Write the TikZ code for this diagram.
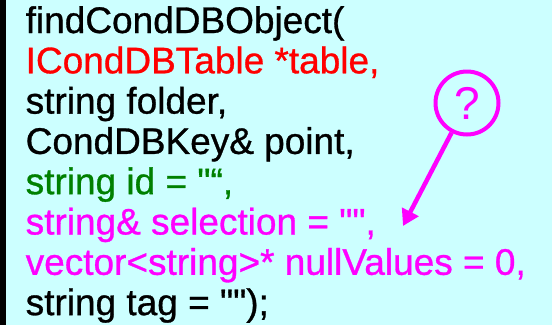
\documentclass[tikz,border=0pt]{standalone}
\usepackage{fontspec}
\setmainfont{Liberation Sans}[Ligatures=TeXOff]
\newfontfamily\codefont{Liberation Sans}[Ligatures=TeXOff, FakeBold=0.8]
\usetikzlibrary{positioning,arrows.meta}
\definecolor{bgcyan}{HTML}{CCFFFF}
\definecolor{codered}{HTML}{FF0000}
\definecolor{codegreen}{HTML}{008000}
\definecolor{codemagenta}{HTML}{FF00FF}
\tikzset{
  codeline/.style={inner sep=0pt, text height=29.9pt, text depth=10pt,
                   font=\codefont\fontsize{37}{40}\selectfont},
  qmark/.style={circle, draw=codemagenta, line width=4pt, minimum size=63pt,
                inner sep=0pt, text=codemagenta, font=\fontsize{46}{46}\selectfont},
  pointer/.style={-{Triangle[length=16pt, width=18pt]}, line width=4.5pt, draw=codemagenta},
}

\begin{document}
\begin{tikzpicture}[x=1pt, y=-1pt]
  \useasboundingbox (0,0) rectangle (552,325);
  \fill[bgcyan] (0,0) rectangle (552,325);
  \fill[black] (0,0) rectangle (6,325);

  \node[codeline, anchor=base west] (line1) at (25.5,33) {findCondDBObject(};
  \node[codeline, text=codered, below=0pt of line1.south west, anchor=north west] (line2) {ICondDBTable *table,};
  \node[codeline, below=0pt of line2.south west, anchor=north west] (line3) {string folder,};
  \node[codeline, below=0pt of line3.south west, anchor=north west] (line4) {CondDBKey\& point,};
  \node[codeline, text=codegreen, below=0pt of line4.south west, anchor=north west] (line5) {string id = "“,};
  \node[codeline, text=codemagenta, below=0pt of line5.south west, anchor=north west] (line6) {string\& selection = "",};
  \node[codeline, text=codemagenta, below=0pt of line6.south west, anchor=north west] (line7) {vector<string>* nullValues = 0,};
  \node[codeline, below=0pt of line7.south west, anchor=north west] (line8) {string tag = "");};

  \node[qmark] (ask) at (467,103) {?};
  \coordinate (asktip) at (403,226);
  \draw[pointer] (ask) -- (asktip);
\end{tikzpicture}
\end{document}
